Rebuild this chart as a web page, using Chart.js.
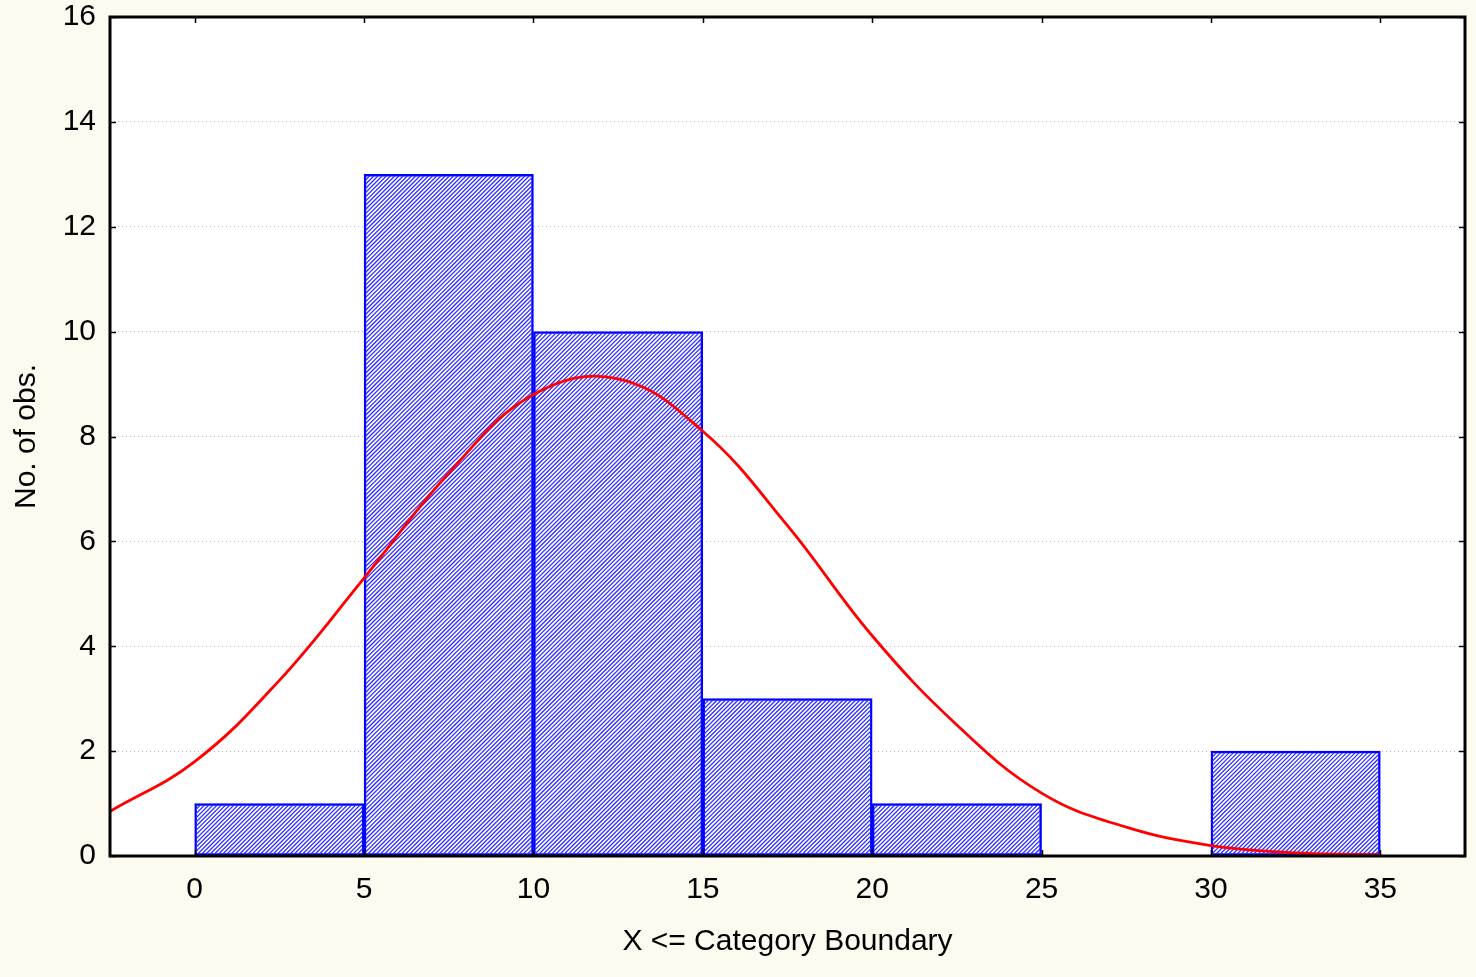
<!DOCTYPE html>
<html>
<head>
<meta charset="utf-8">
<script src="https://cdn.jsdelivr.net/npm/chart.js@4.4.1/dist/chart.umd.min.js"></script>
<style>
  html, body { margin: 0; padding: 0; background: #fdfaef; }
  #wrap { width: 1476px; height: 977px; }
</style>
</head>
<body>
<div id="wrap"><canvas id="histChart"></canvas></div>
<script>
// Histogram bins (midpoints of 5-wide categories) and counts
const binCenters = [2.5, 7.5, 12.5, 17.5, 22.5, 27.5, 32.5];
const binCounts = [1, 13, 10, 3, 1, 0, 2];

// Fitted normal curve
const curveX = [-2.5, 0, 2.5, 5, 7.5, 10, 12.5, 15, 17.5, 20, 22.5, 25, 27.5, 30, 32.5, 35];
const curveY = [0.85, 1.8, 3.35, 5.3, 7.3, 8.8, 9.1, 8.1, 6.3, 4.2, 2.5, 1.2, 0.55, 0.2, 0.06, 0.02];

const xTicks = [0, 5, 10, 15, 20, 25, 30, 35];
const yTicks = [0, 2, 4, 6, 8, 10, 12, 14, 16];

const FONT = { family: 'Liberation Sans, Arial, sans-serif', size: 30 };

// Diagonal hatching inside each bar, drawn right after the bar dataset
const hatchPlugin = {
    id: 'hatch',
    afterDatasetDraw(chart, args) {
        if (args.meta.type !== 'bar') return;
        const ctx = chart.ctx;
        const step = 4.2;
        args.meta.data.forEach(bar => {
            const p = bar.getProps(['x', 'y', 'base', 'width'], true);
            const left = p.x - p.width / 2 + 1.5;
            const right = p.x + p.width / 2 - 1.5;
            const top = Math.min(p.y, p.base) + 1.5;
            const bottom = Math.max(p.y, p.base) - 1;
            if (bottom - top < 1) return;
            const h = bottom - top;
            ctx.save();
            ctx.beginPath();
            ctx.rect(left, top, right - left, h);
            ctx.clip();
            ctx.strokeStyle = '#3232ff';
            ctx.lineWidth = 1.3;
            ctx.beginPath();
            for (let k = left - h; k < right; k += step) {
                ctx.moveTo(k, bottom);
                ctx.lineTo(k + h, top);
            }
            ctx.stroke();
            ctx.restore();
        });
    }
};

// Frame around the plot area plus inward ticks on all four sides
const framePlugin = {
    id: 'frame',
    afterDatasetsDraw(chart) {
        const { ctx, chartArea: a, scales } = chart;
        const len = 6;
        ctx.save();
        ctx.strokeStyle = '#000';
        ctx.lineWidth = 1.5;
        ctx.beginPath();
        xTicks.forEach(v => {
            const px = Math.round(scales.x.getPixelForValue(v)) + 0.5;
            ctx.moveTo(px, a.top); ctx.lineTo(px, a.top + len);
            ctx.moveTo(px, a.bottom); ctx.lineTo(px, a.bottom - len);
        });
        yTicks.forEach(v => {
            const py = Math.round(scales.y.getPixelForValue(v)) + 0.5;
            ctx.moveTo(a.left, py); ctx.lineTo(a.left + len, py);
            ctx.moveTo(a.right, py); ctx.lineTo(a.right - len, py);
        });
        ctx.stroke();
        ctx.lineWidth = 3;
        ctx.strokeRect(a.left, a.top, a.right - a.left, a.bottom - a.top);
        ctx.restore();
    }
};

const bgPlugin = {
    id: 'plotBg',
    beforeDraw(chart) {
        const { ctx, chartArea: a } = chart;
        ctx.save();
        ctx.fillStyle = '#ffffff';
        ctx.fillRect(a.left, a.top, a.right - a.left, a.bottom - a.top);
        ctx.restore();
    }
};

const ctx = document.getElementById('histChart').getContext('2d');
new Chart(ctx, {
    data: {
        datasets: [
            {
                type: 'line',
                data: curveX.map((x, i) => ({ x: x, y: curveY[i] })),
                borderColor: '#ff0000',
                borderWidth: 2.8,
                pointRadius: 0,
                fill: false,
                tension: 0.4,
                order: 0
            },
            {
                type: 'bar',
                data: binCenters.map((x, i) => ({ x: x, y: binCounts[i] })),
                backgroundColor: '#ffffff',
                borderColor: '#0000ff',
                borderWidth: 2.5,
                borderSkipped: false,
                barPercentage: 1,
                categoryPercentage: 1,
                order: 1
            }
        ]
    },
    options: {
        responsive: true,
        maintainAspectRatio: false,
        animation: false,
        layout: { padding: { top: 17, right: 11, left: 0, bottom: 0 } },
        plugins: {
            legend: { display: false },
            tooltip: { enabled: false }
        },
        scales: {
            x: {
                type: 'linear',
                min: -2.5,
                max: 37.5,
                offset: false,
                afterBuildTicks: s => { s.ticks = xTicks.map(v => ({ value: v })); },
                afterFit: s => {
                    s.height = 121;
                    s.paddingLeft = 0;
                    s.paddingRight = 0;
                },
                grid: { display: false, drawTicks: false, offset: false },
                border: { display: false },
                ticks: { color: '#000', font: FONT, padding: 16, maxRotation: 0 },
                title: {
                    display: true,
                    text: 'X <= Category Boundary',
                    color: '#000',
                    font: FONT,
                    padding: { top: 0, bottom: 17 }
                }
            },
            y: {
                type: 'linear',
                min: 0,
                max: 16,
                afterBuildTicks: s => { s.ticks = yTicks.map(v => ({ value: v })); },
                afterFit: s => {
                    s.width = 110;
                    s.paddingTop = 0;
                    s.paddingBottom = 0;
                },
                grid: { color: '#b8b8b8', lineWidth: 1, drawTicks: false },
                border: { display: false, dash: [1, 3] },
                ticks: { color: '#000', font: FONT, padding: 14 },
                title: {
                    display: true,
                    text: 'No. of obs.',
                    color: '#000',
                    font: FONT,
                    padding: { top: 9, bottom: 0 }
                }
            }
        }
    },
    plugins: [bgPlugin, hatchPlugin, framePlugin]
});
</script>
</body>
</html>
